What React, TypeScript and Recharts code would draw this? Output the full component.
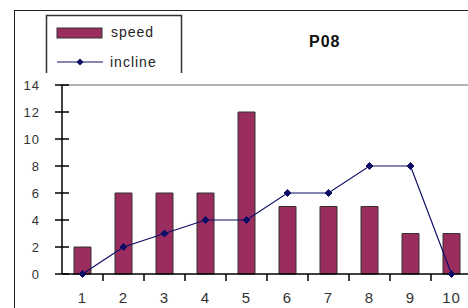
import React from 'react';
import { ComposedChart, Bar, Line, XAxis, YAxis, ReferenceLine } from 'recharts';

const categories = ['1', '2', '3', '4', '5', '6', '7', '8', '9', '10'];
const speed = [2, 6, 6, 6, 12, 5, 5, 5, 3, 3];
const incline = [0, 2, 3, 4, 4, 6, 6, 8, 8, 0];
const yTicks = [0, 2, 4, 6, 8, 10, 12, 14];

const data = categories.map((name, i) => ({ name, speed: speed[i], incline: incline[i] }));

const BAR = '#9b2d5e';
const LINE = '#0d0d66';
const TICK_FONT = 'Arial, "Liberation Sans", sans-serif';

const Diamond = (props: any) => {
  const { cx, cy } = props;
  if (cx == null || cy == null) return null;
  return <path d={`M${cx},${cy - 3.5}L${cx + 3.5},${cy}L${cx},${cy + 3.5}L${cx - 3.5},${cy}Z`} fill={LINE} stroke={LINE} />;
};

const YTick = (props: any) => {
  const { x, y, payload } = props;
  return (
    <g>
      <line x1={x - 7} x2={x + 7} y1={y} y2={y} stroke="#000" strokeWidth={1.5} />
      <text x={x - 22} y={y} dy="0.36em" textAnchor="end" fontSize={13} fill="#333" fontFamily={TICK_FONT} letterSpacing={1}>
        {payload.value}
      </text>
    </g>
  );
};

const XTick = (props: any) => {
  const { x, y, payload, index } = props;
  return (
    <g>
      {index < categories.length - 1 && (
        <line x1={x + 20.5} x2={x + 20.5} y1={y} y2={y + 7} stroke="#000" strokeWidth={1.5} />
      )}
      <text x={x} y={y + 18} dy="0.71em" textAnchor="middle" fontSize={15} fill="#333" fontFamily={TICK_FONT} letterSpacing={1}>
        {payload.value}
      </text>
    </g>
  );
};

const LegendBox = () => (
  <svg width={138} height={60} style={{ position: 'absolute', left: 45, top: 14 }}>
    <path d="M1.5,59V1.5H136.5V59" fill="none" stroke="#333" strokeWidth={1.5} />
    <rect x={12} y={14} width={45} height={10} fill={BAR} stroke="#333" strokeWidth={1} />
    <text x={66} y={23} fontSize={14} fill="#222" fontFamily={TICK_FONT} letterSpacing={1}>speed</text>
    <line x1={12} x2={58} y1={48} y2={48} stroke={LINE} strokeWidth={1.2} />
    <path d="M35,44.5L38.5,48L35,51.5L31.5,48Z" fill={LINE} />
    <text x={65} y={53} fontSize={14} fill="#222" fontFamily={TICK_FONT} letterSpacing={1}>incline</text>
  </svg>
);

export default function App() {
  return (
    <div style={{ position: 'absolute', left: 0, top: 0, width: 468, height: 308, overflow: 'hidden', background: '#fff' }}>
      <div style={{ position: 'absolute', left: 14, top: 10, width: 480, height: 320, borderLeft: '1.5px solid #222', borderTop: '1.5px solid #222' }} />
      <div style={{ position: 'absolute', left: 0, top: 0 }}>
        <ComposedChart width={480} height={330} data={data} margin={{ top: 85, right: 8, bottom: 0, left: 0 }}>
          <XAxis
            dataKey="name"
            tickLine={false}
            tickSize={0}
            tickMargin={0}
            tick={<XTick />}
            height={56}
            interval={0}
            axisLine={{ stroke: '#000', strokeWidth: 1.5 }}
          />
          <YAxis
            domain={[0, 14]}
            ticks={yTicks}
            width={62}
            tickLine={false}
            tickSize={0}
            tickMargin={0}
            tick={<YTick />}
            axisLine={{ stroke: '#000', strokeWidth: 1.5 }}
            interval={0}
          />
          <ReferenceLine y={14} stroke="#999" strokeWidth={1.5} />
          <Bar dataKey="speed" fill={BAR} stroke="#333" strokeWidth={1} barSize={17} isAnimationActive={false} />
          <Line
            dataKey="incline"
            type="linear"
            stroke={LINE}
            strokeWidth={1.2}
            dot={<Diamond />}
            activeDot={false}
            isAnimationActive={false}
          />
        </ComposedChart>
      </div>
      <LegendBox />
      <div style={{ position: 'absolute', left: 309, top: 33, fontFamily: TICK_FONT, fontWeight: 'bold', fontSize: 16, color: '#111', letterSpacing: 1 }}>P08</div>
    </div>
  );
}
